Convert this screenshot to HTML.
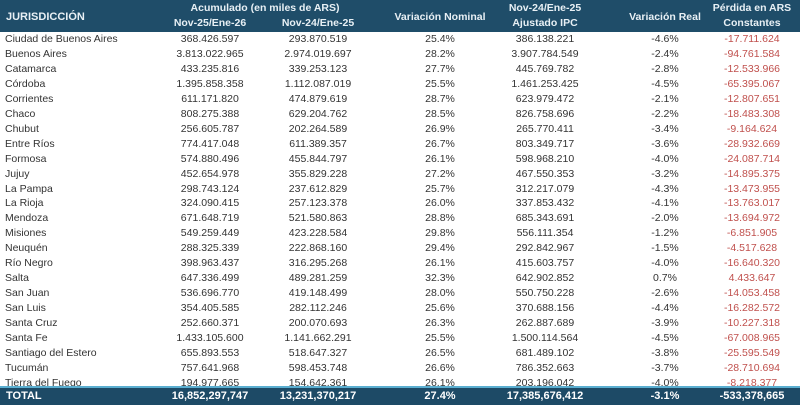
<!DOCTYPE html>
<html><head><meta charset="utf-8"><style>
body{margin:0;width:800px;height:403px;overflow:hidden;background:#fff;font-family:"Liberation Sans",sans-serif;position:relative}
.hd{position:absolute;left:0;top:0;width:800px;height:32px;background:#1f4d69;color:#e8f0f5;font-weight:bold;font-size:10.5px}
.hd div{position:absolute;text-align:center;white-space:nowrap;transform:translateX(-50%)}
.r{position:absolute;left:0;width:800px;height:15px;font-size:10.5px;color:#333;line-height:15px}
.r span{position:absolute;white-space:nowrap;transform:translateX(-50%)}
.r span.n{transform:none;left:5px}
.r span.red{color:#c0504d}
.tot{position:absolute;left:0;top:386px;width:800px;height:17px;background:#1d4a66;border-top:2px solid #5aaed0;color:#fff;font-weight:bold;font-size:11px;line-height:16px;font-family:"Liberation Sans Narrow","Liberation Sans",sans-serif}
.tot span{position:absolute;white-space:nowrap;transform:translateX(-50%)}
</style></head><body>
<div class="hd">
<div style="left:30px;transform:none;left:6px;top:11px;font-size:11px">JURISDICCIÓN</div>
<div style="left:265px;top:2px">Acumulado (en miles de ARS)</div>
<div style="left:210px;top:17px">Nov-25/Ene-26</div>
<div style="left:318px;top:17px">Nov-24/Ene-25</div>
<div style="left:440px;top:11px">Variación Nominal</div>
<div style="left:545px;top:2px">Nov-24/Ene-25</div>
<div style="left:545px;top:17px">Ajustado IPC</div>
<div style="left:665px;top:11px">Variación Real</div>
<div style="left:752px;top:2px">Pérdida en ARS</div>
<div style="left:752px;top:17px">Constantes</div>
</div>
<div id="rows"></div>
<script>
var d=[["Ciudad de Buenos Aires","368.426.597","293.870.519","25.4%","386.138.221","-4.6%","-17.711.624"],
["Buenos Aires","3.813.022.965","2.974.019.697","28.2%","3.907.784.549","-2.4%","-94.761.584"],
["Catamarca","433.235.816","339.253.123","27.7%","445.769.782","-2.8%","-12.533.966"],
["Córdoba","1.395.858.358","1.112.087.019","25.5%","1.461.253.425","-4.5%","-65.395.067"],
["Corrientes","611.171.820","474.879.619","28.7%","623.979.472","-2.1%","-12.807.651"],
["Chaco","808.275.388","629.204.762","28.5%","826.758.696","-2.2%","-18.483.308"],
["Chubut","256.605.787","202.264.589","26.9%","265.770.411","-3.4%","-9.164.624"],
["Entre Ríos","774.417.048","611.389.357","26.7%","803.349.717","-3.6%","-28.932.669"],
["Formosa","574.880.496","455.844.797","26.1%","598.968.210","-4.0%","-24.087.714"],
["Jujuy","452.654.978","355.829.228","27.2%","467.550.353","-3.2%","-14.895.375"],
["La Pampa","298.743.124","237.612.829","25.7%","312.217.079","-4.3%","-13.473.955"],
["La Rioja","324.090.415","257.123.378","26.0%","337.853.432","-4.1%","-13.763.017"],
["Mendoza","671.648.719","521.580.863","28.8%","685.343.691","-2.0%","-13.694.972"],
["Misiones","549.259.449","423.228.584","29.8%","556.111.354","-1.2%","-6.851.905"],
["Neuquén","288.325.339","222.868.160","29.4%","292.842.967","-1.5%","-4.517.628"],
["Río Negro","398.963.437","316.295.268","26.1%","415.603.757","-4.0%","-16.640.320"],
["Salta","647.336.499","489.281.259","32.3%","642.902.852","0.7%","4.433.647"],
["San Juan","536.696.770","419.148.499","28.0%","550.750.228","-2.6%","-14.053.458"],
["San Luis","354.405.585","282.112.246","25.6%","370.688.156","-4.4%","-16.282.572"],
["Santa Cruz","252.660.371","200.070.693","26.3%","262.887.689","-3.9%","-10.227.318"],
["Santa Fe","1.433.105.600","1.141.662.291","25.5%","1.500.114.564","-4.5%","-67.008.965"],
["Santiago del Estero","655.893.553","518.647.327","26.5%","681.489.102","-3.8%","-25.595.549"],
["Tucumán","757.641.968","598.453.748","26.6%","786.352.663","-3.7%","-28.710.694"],
["Tierra del Fuego","194.977.665","154.642.361","26.1%","203.196.042","-4.0%","-8.218.377"]];
var x=[0,210,318,440,545,665,752],h="";
d.forEach(function(r,i){h+='<div class="r" style="top:'+(32+i*14.95)+'px">';
r.forEach(function(c,j){h+=j==0?'<span class="n">'+c+'</span>':'<span'+(j==6?' class="red"':'')+' style="left:'+x[j]+'px">'+c+'</span>';});h+='</div>';});
document.getElementById('rows').innerHTML=h;
</script>
<div class="tot">
<span style="left:6px;transform:none">TOTAL</span>
<span style="left:210px">16,852,297,747</span>
<span style="left:318px">13,231,370,217</span>
<span style="left:440px">27.4%</span>
<span style="left:545px">17,385,676,412</span>
<span style="left:665px">-3.1%</span>
<span style="left:752px">-533,378,665</span>
</div>
</body></html>
